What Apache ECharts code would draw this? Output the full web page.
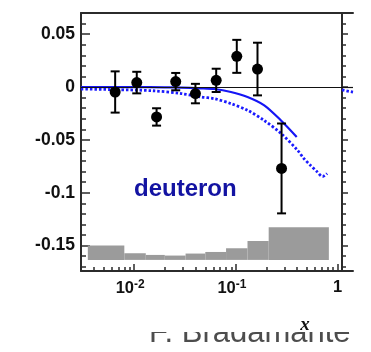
<!DOCTYPE html>
<html>
<head>
<meta charset="utf-8">
<script src="https://cdn.jsdelivr.net/npm/echarts@6/dist/echarts.min.js"></script>
<style>
html,body{margin:0;padding:0;background:#fff;}
#chart{width:371px;height:352px;}
</style>
</head>
<body>
<div id="chart"></div>
<script>
// ---- data ----
var pointX   = [0.0065, 0.0106, 0.0166, 0.0256, 0.040, 0.064, 0.102, 0.163, 0.281];
var pointY   = [-0.0047, 0.0042, -0.0283, 0.0051, -0.0062, 0.0063, 0.029, 0.017, -0.077];
var pointErr = [0.0195, 0.0102, 0.0082, 0.0082, 0.0092, 0.011, 0.0156, 0.0249, 0.0425];

var solidX = [0.003, 0.01, 0.02, 0.0289, 0.045, 0.0612, 0.0893, 0.130, 0.190, 0.276, 0.396];
var solidY = [0.0, -0.0001, -0.0003, -0.0006, -0.0012, -0.0019, -0.0047, -0.0094, -0.0173, -0.0314, -0.0472];

var dottedX = [0.003, 0.0065, 0.015, 0.0289, 0.0454, 0.0612, 0.0893, 0.130, 0.188, 0.276, 0.403, 0.464, 0.539, 0.630, 0.711, 0.788];
var dottedY = [-0.0019, -0.0025, -0.0035, -0.0062, -0.0094, -0.011, -0.0157, -0.022, -0.0314, -0.0437, -0.0597, -0.0675, -0.0739, -0.0802, -0.0847, -0.0817];

var sysEdges = [0.0035, 0.008, 0.013, 0.02, 0.032, 0.05, 0.08, 0.13, 0.21, 0.82];
var sysTops  = [-0.150, -0.1572, -0.1588, -0.1594, -0.1575, -0.156, -0.1525, -0.1456, -0.1326];
var sysBase  = -0.1635;

var panel2X = [0, 1];
var panel2Dotted = [-0.0027, -0.0048];

var yMajorTicks = [-0.15, -0.1, -0.05, 0, 0.05];
var yMinorTicks = [-0.17,-0.16,-0.14,-0.13,-0.12,-0.11,-0.09,-0.08,-0.07,-0.06,-0.04,-0.03,-0.02,-0.01,0.01,0.02,0.03,0.04,0.06];
var xMajorTicks = [0.01, 0.1, 1];
var xMinorTicks = [0.004,0.005,0.006,0.007,0.008,0.009,0.02,0.03,0.04,0.05,0.06,0.07,0.08,0.09,0.2,0.3,0.4,0.5,0.6,0.7,0.8,0.9];
var xTickLabels = {'-2': '{a|10}{b|-2}', '-1': '{a|10}{b|-1}', '0': '{a|1}'};

var yLabelText = {'-0.15':'-0.15','-0.1':'-0.1','-0.05':'-0.05','0':'0','0.05':'0.05'};

var Y_MIN = -0.174, Y_MAX = 0.07;
var X_MIN = 0.003, X_MAX = 1.104;

// ---- chart ----
var chart = echarts.init(document.getElementById('chart'), null, {renderer: 'canvas'});
var axisColor = '#2b2b2b';
var FONT = '"Liberation Sans", Arial, sans-serif';

function zip2(a, b) { return a.map(function (v, i) { return [v, b[i]]; }); }

var option = {
  animation: false,
  backgroundColor: '#fff',
  grid: [
    {left: 81, top: 13, width: 261, height: 258},
    {left: 342, top: 13, width: 11, height: 258}
  ],
  xAxis: [
    { // 0: main bottom log axis (majors + labels)
      gridIndex: 0, type: 'log', logBase: 10, min: X_MIN, max: X_MAX, position: 'bottom',
      axisLine: {show: true, onZero: false, lineStyle: {color: axisColor, width: 2}},
      axisTick: {show: true, inside: true, length: 7, customValues: xMajorTicks, lineStyle: {color: axisColor, width: 1.5}},
      minorTick: {show: false},
      splitLine: {show: false},
      axisLabel: {
        show: true, margin: 8, customValues: xMajorTicks, color: '#111',
        formatter: function (v) {
          return xTickLabels[String(Math.round(Math.log10(v)))];
        },
        rich: {
          a: {fontSize: 16.5, fontWeight: 'bold', fontFamily: FONT, color: '#111'},
          b: {fontSize: 12, fontWeight: 'bold', fontFamily: FONT, color: '#111', padding: [0, 8, 6, 0]}
        }
      }
    },
    { // 1: minor ticks
      gridIndex: 0, type: 'log', logBase: 10, min: X_MIN, max: X_MAX, position: 'bottom',
      axisLine: {show: false, onZero: false},
      axisTick: {show: true, inside: true, length: 4, customValues: xMinorTicks, lineStyle: {color: axisColor, width: 1.5}},
      axisLabel: {show: false}, splitLine: {show: false}
    },
    { // 2: top frame
      gridIndex: 0, type: 'log', logBase: 10, min: X_MIN, max: X_MAX, position: 'top',
      axisLine: {show: true, onZero: false, lineStyle: {color: axisColor, width: 2}},
      axisTick: {show: false}, axisLabel: {show: false}, splitLine: {show: false}
    },
    { // 3: panel 2 bottom
      gridIndex: 1, type: 'value', min: 0, max: 1, position: 'bottom',
      axisLine: {show: true, onZero: false, lineStyle: {color: axisColor, width: 2}},
      axisTick: {show: false}, axisLabel: {show: false}, splitLine: {show: false}
    },
    { // 4: panel 2 top
      gridIndex: 1, type: 'value', min: 0, max: 1, position: 'top',
      axisLine: {show: true, onZero: false, lineStyle: {color: axisColor, width: 2}},
      axisTick: {show: false}, axisLabel: {show: false}, splitLine: {show: false}
    }
  ],
  yAxis: [
    { // 0: main left axis
      gridIndex: 0, type: 'value', min: Y_MIN, max: Y_MAX, position: 'left',
      axisLine: {show: true, onZero: false, lineStyle: {color: axisColor, width: 2}},
      axisTick: {show: true, inside: true, length: 9, customValues: yMajorTicks, lineStyle: {color: axisColor, width: 1.5}},
      axisLabel: {
        show: true, customValues: yMajorTicks, margin: 6, color: '#111',
        fontSize: 17.5, fontWeight: 'bold', fontFamily: FONT,
        formatter: function (v) { return yLabelText[String(Math.round(v * 100) / 100)]; }
      },
      splitLine: {show: false}
    },
    { // 1: minor ticks left
      gridIndex: 0, type: 'value', min: Y_MIN, max: Y_MAX, position: 'left',
      axisLine: {show: false, onZero: false},
      axisTick: {show: true, inside: true, length: 5, customValues: yMinorTicks, lineStyle: {color: axisColor, width: 1.5}},
      axisLabel: {show: false}, splitLine: {show: false}
    },
    { // 2: panel 2 left axis
      gridIndex: 1, type: 'value', min: Y_MIN, max: Y_MAX, position: 'left',
      axisLine: {show: true, onZero: false, lineStyle: {color: axisColor, width: 2}},
      axisTick: {show: true, inside: true, length: 6, customValues: yMajorTicks, lineStyle: {color: axisColor, width: 1.5}},
      axisLabel: {show: false}, splitLine: {show: false}
    },
    { // 3: panel 2 minor ticks
      gridIndex: 1, type: 'value', min: Y_MIN, max: Y_MAX, position: 'left',
      axisLine: {show: false, onZero: false},
      axisTick: {show: true, inside: true, length: 4, customValues: yMinorTicks, lineStyle: {color: axisColor, width: 1.5}},
      axisLabel: {show: false}, splitLine: {show: false}
    }
  ],
  series: [
    { // systematic band
      type: 'custom', xAxisIndex: 0, yAxisIndex: 0, z: 1,
      data: sysTops.map(function (t, i) { return [sysEdges[i], sysEdges[i + 1], t, sysBase]; }),
      encode: {x: [0, 1], y: [2, 3]},
      renderItem: function (params, api) {
        var p1 = api.coord([api.value(0), api.value(2)]);
        var p2 = api.coord([api.value(1), api.value(3)]);
        return {type: 'rect', shape: {x: p1[0], y: p1[1], width: p2[0] - p1[0], height: p2[1] - p1[1]},
                style: {fill: '#9b9b9b'}};
      }
    },
    { // zero line
      type: 'line', xAxisIndex: 0, yAxisIndex: 0, data: [], z: 2, silent: true,
      markLine: {symbol: 'none', silent: true, label: {show: false},
                 lineStyle: {color: '#111', width: 1.2, type: 'solid'},
                 data: [{yAxis: 0}]}
    },
    {
      type: 'line', xAxisIndex: 3, yAxisIndex: 2, data: [], z: 2, silent: true,
      markLine: {symbol: 'none', silent: true, label: {show: false},
                 lineStyle: {color: '#111', width: 1.2, type: 'solid'},
                 data: [{yAxis: 0}]}
    },
    { // dotted curve
      type: 'line', xAxisIndex: 0, yAxisIndex: 0, z: 3, showSymbol: false, smooth: 0.3,
      data: zip2(dottedX, dottedY),
      lineStyle: {color: '#1a1aff', width: 2.8, type: [2.5, 2], cap: 'butt'}
    },
    { // solid curve
      type: 'line', xAxisIndex: 0, yAxisIndex: 0, z: 4, showSymbol: false, smooth: 0.3,
      data: zip2(solidX, solidY),
      lineStyle: {color: '#1515f5', width: 2.2, type: 'solid'}
    },
    { // panel 2 dotted piece
      type: 'line', xAxisIndex: 3, yAxisIndex: 2, z: 3, showSymbol: false,
      data: zip2(panel2X, panel2Dotted),
      lineStyle: {color: '#1a1aff', width: 2.8, type: [2.5, 2], cap: 'butt'}
    },
    { // error bars
      type: 'custom', xAxisIndex: 0, yAxisIndex: 0, z: 5,
      data: pointX.map(function (x, i) { return [x, pointY[i], pointErr[i]]; }),
      encode: {x: 0, y: 1},
      renderItem: function (params, api) {
        var x = api.value(0), y = api.value(1), e = api.value(2);
        var t = api.coord([x, y + e]), b = api.coord([x, y - e]);
        var h = 4.5;
        var st = {stroke: '#000', lineWidth: 2};
        return {type: 'group', children: [
          {type: 'line', shape: {x1: t[0], y1: t[1], x2: b[0], y2: b[1]}, style: st},
          {type: 'line', shape: {x1: t[0] - h, y1: t[1], x2: t[0] + h, y2: t[1]}, style: st},
          {type: 'line', shape: {x1: b[0] - h, y1: b[1], x2: b[0] + h, y2: b[1]}, style: st}
        ]};
      }
    },
    { // points
      type: 'scatter', xAxisIndex: 0, yAxisIndex: 0, z: 6,
      data: zip2(pointX, pointY),
      symbol: 'circle', symbolSize: 11,
      itemStyle: {color: '#000', opacity: 1}
    }
  ],
  graphic: [
    {type: 'text', left: 134, top: 177, z: 10,
     style: {text: 'deuteron', fill: '#1313a2', font: 'bold 24px "Liberation Sans", Arial, sans-serif'}},
    {type: 'text', x: 149, y: 333, z: 10,
     style: {text: 'F. Bradamante', fill: '#4d4d4d', font: '31px "Liberation Sans", Arial, sans-serif', verticalAlign: 'middle'}},
    {type: 'rect', z: 11, shape: {x: 140, y: 300, width: 231, height: 32}, style: {fill: '#fff'}},
    {type: 'text', x: 305, y: 325, z: 12,
     style: {text: 'x', fill: '#111', font: 'italic bold 19px "Liberation Serif", "Times New Roman", serif', align: 'center', verticalAlign: 'middle'}}
  ]
};
chart.setOption(option);
</script>
</body>
</html>
